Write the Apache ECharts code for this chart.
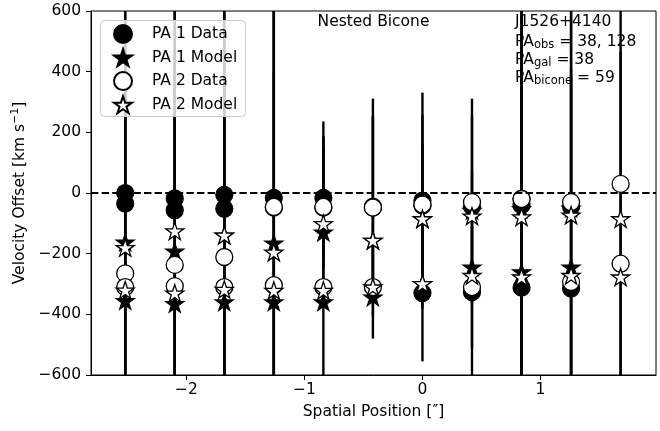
<!DOCTYPE html>
<html><head><meta charset="utf-8">
<script src="https://cdn.jsdelivr.net/npm/echarts@6/dist/echarts.min.js"></script>
<style>html,body{margin:0;padding:0;background:#fff}#c{width:660px;height:431px}</style>
</head><body><div id="c"></div>
<script>
// Spatial positions (arcsec)
const xPos = [-2.52, -2.10, -1.68, -1.26, -0.84, -0.42, 0.00, 0.42, 0.84, 1.26, 1.68];
// PA 1 data (two components) and their errors
const pa1DataA = [0, -18, -6, -16, -16, -45, -25, -45, -40, -46, null];
const pa1DataB = [-35, -57, -52, -48, -48, -48, -330, -327, -312, -315, null];
const pa1ErrA  = [700, 700, 700, 700, 200, 300, 356, 300, 700, 700, null];
const pa1ErrB  = [700, 700, 700, 700, 200, 300, 225, 400, 700, 700, null];
// PA 1 model
const pa1ModelA = [-162, -192, -139, -165, -129, -156, -85, -57, -52, -50, null];
const pa1ModelB = [-355, -365, -359, -359, -359, -343, -299, -244, -260, -244, null];
// PA 2 data and errors
const pa2DataA = [-265, -237, -211, -46, -46, -48, -41, -30, -19, -30, 30];
const pa2DataB = [-310, -307, -310, -304, -310, -310, -38, -310, -20, -293, -233];
const pa2ErrA  = [700, 700, 700, 700, 282, 359, 300, 341, 700, 700, 700];
const pa2ErrB  = [700, 700, 700, 700, 500, 170, 200, 200, 700, 700, 700];
// PA 2 model
const pa2ModelA = [-180, -125, -139, -195, -101, -156, -85, -76, -79, -73, -85];
const pa2ModelB = [-320, -330, -318, -321, -321, -310, -299, -272, -277, -272, -277];
// ticks
const xTicks = [-2, -1, 0, 1];
const yMin = -600, yMax = 600, yStep = 200;

const FONT = 'DejaVu Sans';
const FS = 15.5;
const STAR = 'path://M0,-100L-22.45,-30.9L-95.11,-30.9L-36.33,11.8L-58.78,80.9L0,38.2L58.78,80.9L36.33,11.8L95.11,-30.9L22.45,-30.9Z';

function pairs(a, b) {
  const out = [];
  [a, b].forEach(arr => arr.forEach((v, i) => { if (v !== null) out.push([xPos[i], v]); }));
  return out;
}
function bars(vals, errs) {
  const out = [];
  vals.forEach((v, i) => { if (v !== null) out.push([xPos[i], v - errs[i], v + errs[i]]); });
  return out;
}
const errData = [].concat(bars(pa1DataA, pa1ErrA), bars(pa1DataB, pa1ErrB), bars(pa2DataA, pa2ErrA), bars(pa2DataB, pa2ErrB));
const minus = v => (v < 0 ? '\u2212' + Math.abs(v) : String(v));
const subRich = {
  a: {fontSize: FS, fontFamily: FONT, fill: '#000', lineHeight: 19},
  s: {fontSize: 11.5, fontFamily: FONT, fill: '#000', lineHeight: 10, verticalAlign: 'bottom'}
};

const chart = echarts.init(document.getElementById('c'), null, {renderer: 'canvas'});
const option = {
  animation: false,
  backgroundColor: '#fff',
  grid: {left: 91, top: 11, width: 565, height: 364, show: true, borderColor: '#000', borderWidth: 1, backgroundColor: 'transparent'},
  xAxis: {
    type: 'value', min: -2.81, max: 1.98,
    axisLine: {show: true, onZero: false, lineStyle: {color: '#000', width: 1}},
    axisTick: {show: true, customValues: xTicks, length: 5, inside: false, lineStyle: {color: '#000', width: 1}},
    axisLabel: {customValues: xTicks, formatter: minus, color: '#000', fontFamily: FONT, fontSize: FS, margin: 7},
    splitLine: {show: false},
    name: 'Spatial Position [\u2033]', nameLocation: 'middle', nameGap: 29,
    nameTextStyle: {color: '#000', fontFamily: FONT, fontSize: FS}
  },
  yAxis: {
    type: 'value', min: yMin, max: yMax, interval: yStep,
    axisLine: {show: true, onZero: false, lineStyle: {color: '#000', width: 1}},
    axisTick: {show: true, length: 5, lineStyle: {color: '#000', width: 1}},
    axisLabel: {formatter: minus, color: '#000', fontFamily: FONT, fontSize: FS, margin: 10},
    splitLine: {show: false},
    name: '{a|Velocity Offset [km s}{p|\u22121}{a|]}', nameLocation: 'middle', nameGap: 60,
    nameTextStyle: {color: '#000', fontFamily: FONT, fontSize: FS,
      rich: {
        a: {color: '#000', fontFamily: FONT, fontSize: FS, lineHeight: 19},
        p: {color: '#000', fontFamily: FONT, fontSize: 11, lineHeight: 10, verticalAlign: 'top'}
      }}
  },
  legend: {
    left: 100, top: 20, orient: 'vertical', z: 30, zlevel: 1,
    padding: [4, 8, 4, 13], itemGap: 4, itemWidth: 18, itemHeight: 18,
    backgroundColor: 'transparent', borderWidth: 0,
    textStyle: {color: '#000', fontFamily: FONT, fontSize: FS, padding: [0, 0, 0, 15]},
    data: ['PA 1 Data', 'PA 1 Model', 'PA 2 Data', 'PA 2 Model']
  },
  graphic: [
    {type: 'text', x: 373.5, y: 14, style: {text: 'Nested Bicone', fill: '#000', font: FS + 'px "DejaVu Sans"', textAlign: 'center'}},
    {type: 'text', x: 515, y: 14, style: {text: 'J1526+4140', fill: '#000', font: FS + 'px "DejaVu Sans"'}},
    {type: 'text', x: 515, y: 32, style: {text: '{a|PA}{s|obs}{a| = 38, 128}', rich: subRich}},
    {type: 'text', x: 515, y: 50, style: {text: '{a|PA}{s|gal}{a| = 38}', rich: subRich}},
    {type: 'text', x: 515, y: 68, style: {text: '{a|PA}{s|bicone}{a| = 59}', rich: subRich}}
  ],
  series: [
    {
      type: 'custom', name: 'errors', z: 1, silent: true,
      data: errData, encode: {x: 0, y: [1, 2]},
      renderItem: function (params, api) {
        const x = api.value(0), lo = api.value(1), hi = api.value(2);
        const p1 = api.coord([x, hi]), p2 = api.coord([x, lo]);
        const cs = params.coordSys;
        const yT = Math.max(p1[1], cs.y), yB = Math.min(p2[1], cs.y + cs.height);
        return {type: 'line', shape: {x1: p1[0], y1: yT, x2: p1[0], y2: yB}, style: {stroke: '#000', lineWidth: 2.4}};
      },
      markLine: {
        silent: true, symbol: 'none', label: {show: false},
        lineStyle: {color: '#000', width: 2, type: [7.4, 3.2]},
        data: [{yAxis: 0}]
      }
    },
    {type: 'scatter', name: 'PA 1 Data', z: 2, symbol: 'circle', symbolSize: 17,
      itemStyle: {color: '#000', borderColor: '#000', borderWidth: 1.2, opacity: 1}, data: pairs(pa1DataA, pa1DataB)},
    {type: 'scatter', name: 'PA 1 Model', z: 3, symbol: STAR, symbolKeepAspect: true, symbolSize: 18,
      itemStyle: {color: '#000', borderColor: '#000', borderWidth: 1.2, opacity: 1}, data: pairs(pa1ModelA, pa1ModelB)},
    {type: 'scatter', name: 'PA 2 Data', z: 4, symbol: 'circle', symbolSize: 17,
      itemStyle: {color: '#fff', borderColor: '#000', borderWidth: 1.3, opacity: 1}, data: pairs(pa2DataA, pa2DataB)},
    {type: 'scatter', name: 'PA 2 Model', z: 5, symbol: STAR, symbolKeepAspect: true, symbolSize: 18,
      itemStyle: {color: '#fff', borderColor: '#000', borderWidth: 1.3, opacity: 1}, data: pairs(pa2ModelA, pa2ModelB)},
    {
      type: 'custom', name: 'legendFrame', coordinateSystem: 'none', z: 10, silent: true,
      data: [[0]],
      renderItem: function () {
        return {type: 'rect', shape: {x: 100.5, y: 20.5, width: 145, height: 96, r: 4},
          style: {fill: 'rgba(255,255,255,0.8)', stroke: '#cccccc', lineWidth: 1}};
      }
    }
  ]
};
chart.setOption(option);
</script>
</body></html>
